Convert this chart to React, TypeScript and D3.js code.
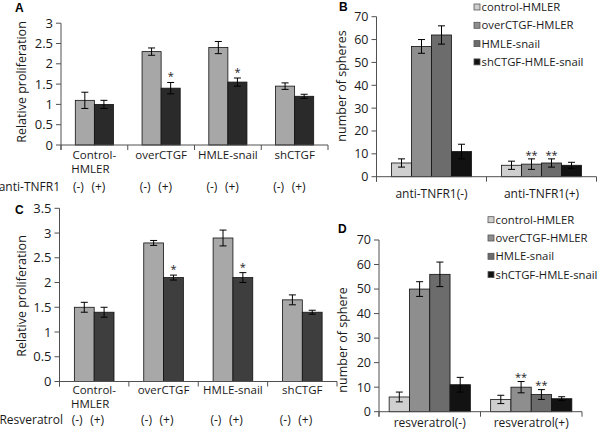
import React from "react";
import * as d3 from "d3";

// ---------- DATA ----------
const prolifCategories = [["Control-", "HMLER"], ["overCTGF"], ["HMLE-snail"], ["shCTGF"]];

// Panel A: anti-TNFR1 (-) / (+)
const A_minus = [1.1, 2.3, 2.4, 1.45];
const A_minusErr = [0.2, 0.09, 0.15, 0.08];
const A_plus = [1.0, 1.4, 1.55, 1.2];
const A_plusErr = [0.1, 0.14, 0.1, 0.05];
const A_plusStars = ["", "*", "*", ""];
const A_ticks = [0, 0.5, 1, 1.5, 2, 2.5, 3];

// Panel C: Resveratrol (-) / (+)
const C_minus = [1.5, 2.8, 2.9, 1.65];
const C_minusErr = [0.1, 0.05, 0.16, 0.1];
const C_plus = [1.4, 2.1, 2.1, 1.4];
const C_plusErr = [0.1, 0.05, 0.1, 0.04];
const C_plusStars = ["", "*", "*", ""];
const C_ticks = [0, 0.5, 1, 1.5, 2, 2.5, 3, 3.5];

// Sphere panels
const sphereSeries = ["control-HMLER", "overCTGF-HMLER", "HMLE-snail", "shCTGF-HMLE-snail"];
const B_categories = ["anti-TNFR1(-)", "anti-TNFR1(+)"];
const B_values = [
  [6, 5],
  [57, 5.5],
  [62, 6],
  [11, 5],
];
const B_errors = [
  [1.8, 1.8],
  [3, 2.3],
  [4, 1.8],
  [3.2, 1.3],
];
const B_stars = [
  ["", ""],
  ["", "**"],
  ["", "**"],
  ["", ""],
];
const D_categories = ["resveratrol(-)", "resveratrol(+)"];
const D_values = [
  [6, 5],
  [50, 10],
  [56, 7],
  [11, 5.3],
];
const D_errors = [
  [2, 1.7],
  [3, 2.3],
  [5, 2],
  [3, 0.8],
];
const D_stars = [
  ["", ""],
  ["", "**"],
  ["", "**"],
  ["", ""],
];
const sphereTicks = [0, 10, 20, 30, 40, 50, 60, 70];

// ---------- STYLE ----------
const FONT = "'Open Sans', 'DejaVu Sans', sans-serif";
const AXIS = "#505050";
const TXT = "#1a1a1a";
const sphereColors = ["#cfcfcf", "#8e8e8e", "#6c6c6c", "#121212"];

type PanelProps = {
  x0: number;
  x1: number;
  yBottom: number;
  yTop: number;
  yMax: number;
  ticks: number[];
  tickFmt: (v: number) => string;
  categories: string[];
  series: { values: number[]; errors: number[]; color: string; stars: string[] }[];
  gapRatio: number;
  starOffset: number;
  tickFont: number;
};

function BarPanel(p: PanelProps) {
  const y = d3.scaleLinear().domain([0, p.yMax]).range([p.yBottom, p.yTop]);
  const x = d3.scaleBand<string>().domain(p.categories).range([p.x0, p.x1]).paddingInner(0).paddingOuter(0);
  const W = x.bandwidth();
  const n = p.series.length;
  const bw = W / (n + p.gapRatio);
  const inner = d3
    .scaleBand<number>()
    .domain(d3.range(n))
    .range([(W - n * bw) / 2, (W + n * bw) / 2])
    .paddingInner(0)
    .paddingOuter(0);
  const boundaries = p.categories.map((c) => x(c) as number).concat([p.x1]);
  return (
    <g>
      {p.series.map((s, si) =>
        p.categories.map((c, ci) => {
          const bx = (x(c) as number) + (inner(si) as number);
          const v = s.values[ci];
          return (
            <rect
              key={`b${si}-${ci}`}
              x={bx}
              y={y(v)}
              width={inner.bandwidth()}
              height={y(0) - y(v)}
              fill={s.color}
              stroke="#111"
              strokeWidth={0.8}
            />
          );
        })
      )}
      {p.series.map((s, si) =>
        p.categories.map((c, ci) => {
          const cx = (x(c) as number) + (inner(si) as number) + inner.bandwidth() / 2;
          const v = s.values[ci];
          const e = s.errors[ci];
          const yt = y(v + e);
          const yb = y(v - e);
          return (
            <g key={`e${si}-${ci}`} stroke="#000" strokeWidth={1}>
              <line x1={cx} x2={cx} y1={yt} y2={yb} />
              <line x1={cx - 3.5} x2={cx + 3.5} y1={yt} y2={yt} />
              <line x1={cx - 3.5} x2={cx + 3.5} y1={yb} y2={yb} />
            </g>
          );
        })
      )}
      {p.series.map((s, si) =>
        p.categories.map((c, ci) => {
          if (!s.stars[ci]) return null;
          const cx = (x(c) as number) + (inner(si) as number) + inner.bandwidth() / 2;
          const yt = y(s.values[ci] + s.errors[ci]);
          return (
            <text
              key={`s${si}-${ci}`}
              x={cx}
              y={yt - p.starOffset + 6}
              textAnchor="middle"
              fontSize={11}
              fontFamily={FONT}
              fill={TXT}
            >
              {s.stars[ci]}
            </text>
          );
        })
      )}
      <line x1={p.x0} x2={p.x0} y1={y(p.yMax)} y2={y(0) + 5} stroke={AXIS} strokeWidth={1} />
      {p.ticks.map((t) => (
        <g key={`t${t}`}>
          <line x1={p.x0 - 5} x2={p.x0} y1={y(t)} y2={y(t)} stroke={AXIS} strokeWidth={1} />
          <text
            x={p.x0 - 8}
            y={y(t)}
            dy="0.35em"
            textAnchor="end"
            fontSize={p.tickFont}
            fontFamily={FONT}
            fill={TXT}
          >
            {p.tickFmt(t)}
          </text>
        </g>
      ))}
      <line x1={p.x0} x2={p.x1} y1={y(0)} y2={y(0)} stroke={AXIS} strokeWidth={1} />
      {boundaries.map((bx, i) => (
        <line key={`xb${i}`} x1={bx} x2={bx} y1={y(0)} y2={y(0) + 5} stroke={AXIS} strokeWidth={1} />
      ))}
    </g>
  );
}

function App() {
  const fmt = (v: number) => String(v);
  const prolifKeys = prolifCategories.map((c) => c.join(" "));

  const A = { x0: 61, x1: 328, yBottom: 145, yTop: 23.2, yMax: 3 };
  const C = { x0: 59.5, x1: 337, yBottom: 381.5, yTop: 208.3, yMax: 3.5 };
  const B = { x0: 376.5, x1: 596.5, yBottom: 176.7, yTop: 16.7, yMax: 70 };
  const D = { x0: 379, x1: 582, yBottom: 411.7, yTop: 240, yMax: 70 };

  const xA = d3.scaleBand<string>().domain(prolifKeys).range([A.x0, A.x1]);
  const xC = d3.scaleBand<string>().domain(prolifKeys).range([C.x0, C.x1]);
  const xB = d3.scaleBand<string>().domain(B_categories).range([B.x0, B.x1]);
  const xD = d3.scaleBand<string>().domain(D_categories).range([D.x0, D.x1]);

  const catLabels = (
    xs: d3.ScaleBand<string>,
    base: number,
    rowY: number,
    rowLabel: string,
    rowLabelX: number,
    minusOff: number,
    plusOff: number
  ) => (
    <g fontFamily={FONT} fill={TXT}>
      {prolifCategories.map((lines, i) => {
        const cx = (xs(prolifKeys[i]) as number) + xs.bandwidth() / 2;
        return (
          <g key={i}>
            {lines.map((l, li) => (
              <text key={li} x={cx - li * 4} y={base + li * 14} textAnchor="middle" fontSize={11.5}>
                {l}
              </text>
            ))}
            <text x={cx + minusOff} y={rowY} textAnchor="middle" fontSize={12}>
              (-)
            </text>
            <text x={cx + plusOff} y={rowY} textAnchor="middle" fontSize={12}>
              (+)
            </text>
          </g>
        );
      })}
      <text x={rowLabelX} y={rowY} textAnchor="end" fontSize={12}>
        {rowLabel}
      </text>
    </g>
  );

  const legend = (lx: number, ly: number) => (
    <g fontFamily={FONT} fill={TXT}>
      {sphereSeries.map((s, i) => (
        <g key={s} transform={`translate(${lx},${ly + i * 18.3})`}>
          <rect x={0} y={-3} width={6} height={6} fill={sphereColors[i]} stroke="#555" strokeWidth={0.8} />
          <text x={7.5} y={0} dy="0.35em" fontSize={11.3}>
            {s}
          </text>
        </g>
      ))}
    </g>
  );

  return (
    <svg
      width={600}
      height={435}
      viewBox="0 0 600 435"
      style={{ position: "absolute", left: 0, top: 0, background: "#fff" }}
    >
      <rect x={0} y={0} width={600} height={435} fill="#fff" />

      {/* Panel A */}
      <BarPanel
        {...A}
        ticks={A_ticks}
        tickFmt={fmt}
        categories={prolifKeys}
        gapRatio={1.5}
        starOffset={8}
        tickFont={13}
        series={[
          { values: A_minus, errors: A_minusErr, color: "#a7a7a7", stars: ["", "", "", ""] },
          { values: A_plus, errors: A_plusErr, color: "#2a2a2a", stars: A_plusStars },
        ]}
      />
      {catLabels(xA, 159, 191, "anti-TNFR1", 60, -16, 4)}
      <text x={22} y={82} transform="rotate(-90,22,82)" textAnchor="middle" dy="0.35em" fontSize={12.5} fontFamily={FONT} fill={TXT}>
        Relative proliferation
      </text>
      <text x={15} y={12} fontSize={12} fontWeight="bold" fontFamily="'Liberation Sans', Arial, sans-serif" fill="#000">
        A
      </text>

      {/* Panel C */}
      <BarPanel
        {...C}
        ticks={C_ticks}
        tickFmt={fmt}
        categories={prolifKeys}
        gapRatio={1.5}
        starOffset={8}
        tickFont={13}
        series={[
          { values: C_minus, errors: C_minusErr, color: "#a8a8a8", stars: ["", "", "", ""] },
          { values: C_plus, errors: C_plusErr, color: "#3e3e3e", stars: C_plusStars },
        ]}
      />
      {catLabels(xC, 394, 424, "Resveratrol", 63, -17, 3)}
      <text x={21.7} y={296} transform="rotate(-90,21.7,296)" textAnchor="middle" dy="0.35em" fontSize={12.5} fontFamily={FONT} fill={TXT}>
        Relative proliferation
      </text>
      <text x={15} y={214} fontSize={12} fontWeight="bold" fontFamily="'Liberation Sans', Arial, sans-serif" fill="#000">
        C
      </text>

      {/* Panel B */}
      <BarPanel
        {...B}
        ticks={sphereTicks}
        tickFmt={fmt}
        categories={B_categories}
        gapRatio={1.5}
        starOffset={6}
        tickFont={12.5}
        series={sphereSeries.map((s, i) => ({
          values: B_values[i],
          errors: B_errors[i],
          color: sphereColors[i],
          stars: B_stars[i],
        }))}
      />
      <g fontFamily={FONT} fill={TXT}>
        {B_categories.map((c) => (
          <text key={c} x={(xB(c) as number) + xB.bandwidth() / 2} y={198} textAnchor="middle" fontSize={12}>
            {c}
          </text>
        ))}
      </g>
      <text x={341.7} y={86} transform="rotate(-90,341.7,86)" textAnchor="middle" dy="0.35em" fontSize={12.5} fontFamily={FONT} fill={TXT}>
        number of spheres
      </text>
      <text x={339} y={11} fontSize={12} fontWeight="bold" fontFamily="'Liberation Sans', Arial, sans-serif" fill="#000">
        B
      </text>
      {legend(474, 7)}

      {/* Panel D */}
      <BarPanel
        {...D}
        ticks={sphereTicks}
        tickFmt={fmt}
        categories={D_categories}
        gapRatio={1.0}
        starOffset={7}
        tickFont={12.5}
        series={sphereSeries.map((s, i) => ({
          values: D_values[i],
          errors: D_errors[i],
          color: sphereColors[i],
          stars: D_stars[i],
        }))}
      />
      <g fontFamily={FONT} fill={TXT}>
        {D_categories.map((c) => (
          <text key={c} x={(xD(c) as number) + xD.bandwidth() / 2} y={427} textAnchor="middle" fontSize={12}>
            {c}
          </text>
        ))}
      </g>
      <text x={343} y={340} transform="rotate(-90,343,340)" textAnchor="middle" dy="0.35em" fontSize={12.5} fontFamily={FONT} fill={TXT}>
        number of sphere
      </text>
      <text x={338} y={233} fontSize={12} fontWeight="bold" fontFamily="'Liberation Sans', Arial, sans-serif" fill="#000">
        D
      </text>
      {legend(488, 219.7)}
    </svg>
  );
}

export default App;
